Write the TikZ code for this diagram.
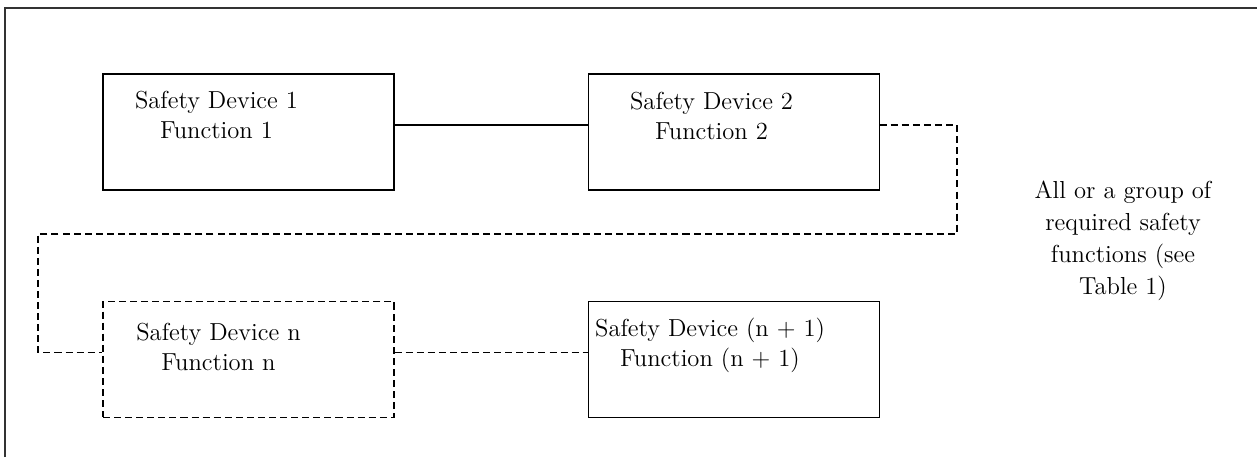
\documentclass[tikz,border=0pt]{standalone}
\usepackage{tikz}
\usetikzlibrary{positioning}

\begin{document}
\begin{tikzpicture}[
  node distance = 2.2cm and 3.86cm,
  devbox/.style  = {rectangle, draw=black, line width=0.6pt,
                    minimum width=5.82cm, minimum height=2.32cm, inner sep=0pt},
  optbox/.style  = {devbox, dash pattern=on 4pt off 2.3pt},
  devtext/.style = {align=center, inner sep=0pt,
                    font=\fontsize{14}{17}\selectfont},
  note/.style    = {align=center, inner sep=0pt,
                    font=\fontsize{14}{18.1}\selectfont},
  wire/.style    = {line width=0.6pt},
  link/.style    = {wire, dash pattern=on 4pt off 2.3pt},
]
\useasboundingbox (0,0) rectangle (25.14,9.14);

%% ── Outer frame ─────────────────────────────────────────────────────────
\draw[line width=0.7pt, black!80] (0.10,0) |- (25.14,8.98);

%% ── Safety devices ──────────────────────────────────────────────────────
\node[devbox]                  (dev1)  at (4.97,6.50) {};
\node[devbox, right=of dev1]   (dev2)  {};
\node[optbox, below=of dev1]   (devn)  {};
\node[devbox, right=of devn]   (devn1) {};

\node[devtext] (t1)  at ([shift={(-0.64,0.34)}]dev1.center)  {Safety Device 1\\Function 1};
\node[devtext] (t2)  at ([shift={(-0.44,0.32)}]dev2.center)  {Safety Device 2\\Function 2};
\node[devtext] (tn)  at ([shift={(-0.60,0.24)}]devn.center)  {Safety Device n\\Function n};
\node[devtext] (tn1) at ([shift={(-0.47,0.28)}]devn1.center) {Safety Device (n + 1)\\Function (n + 1)};

%% ── Chain between devices ───────────────────────────────────────────────
\coordinate (turnR) at (19.14,4.46);
\coordinate (turnL) at (0.76,4.46);

\draw[wire] ([yshift=1.4mm]dev1.east) -- ([yshift=1.4mm]dev2.west);
\draw[link] ([yshift=1.4mm]dev2.east) -| (turnR) -- (turnL) |- ([yshift=1.4mm]devn.west);
\draw[link] ([yshift=1.4mm]devn.east) -- ([yshift=1.4mm]devn1.west);

%% ── Side note ───────────────────────────────────────────────────────────
\node[note] (grp) at (22.46,4.32) {All or a group of\\required safety\\functions (see\\Table 1)};

\end{tikzpicture}
\end{document}
